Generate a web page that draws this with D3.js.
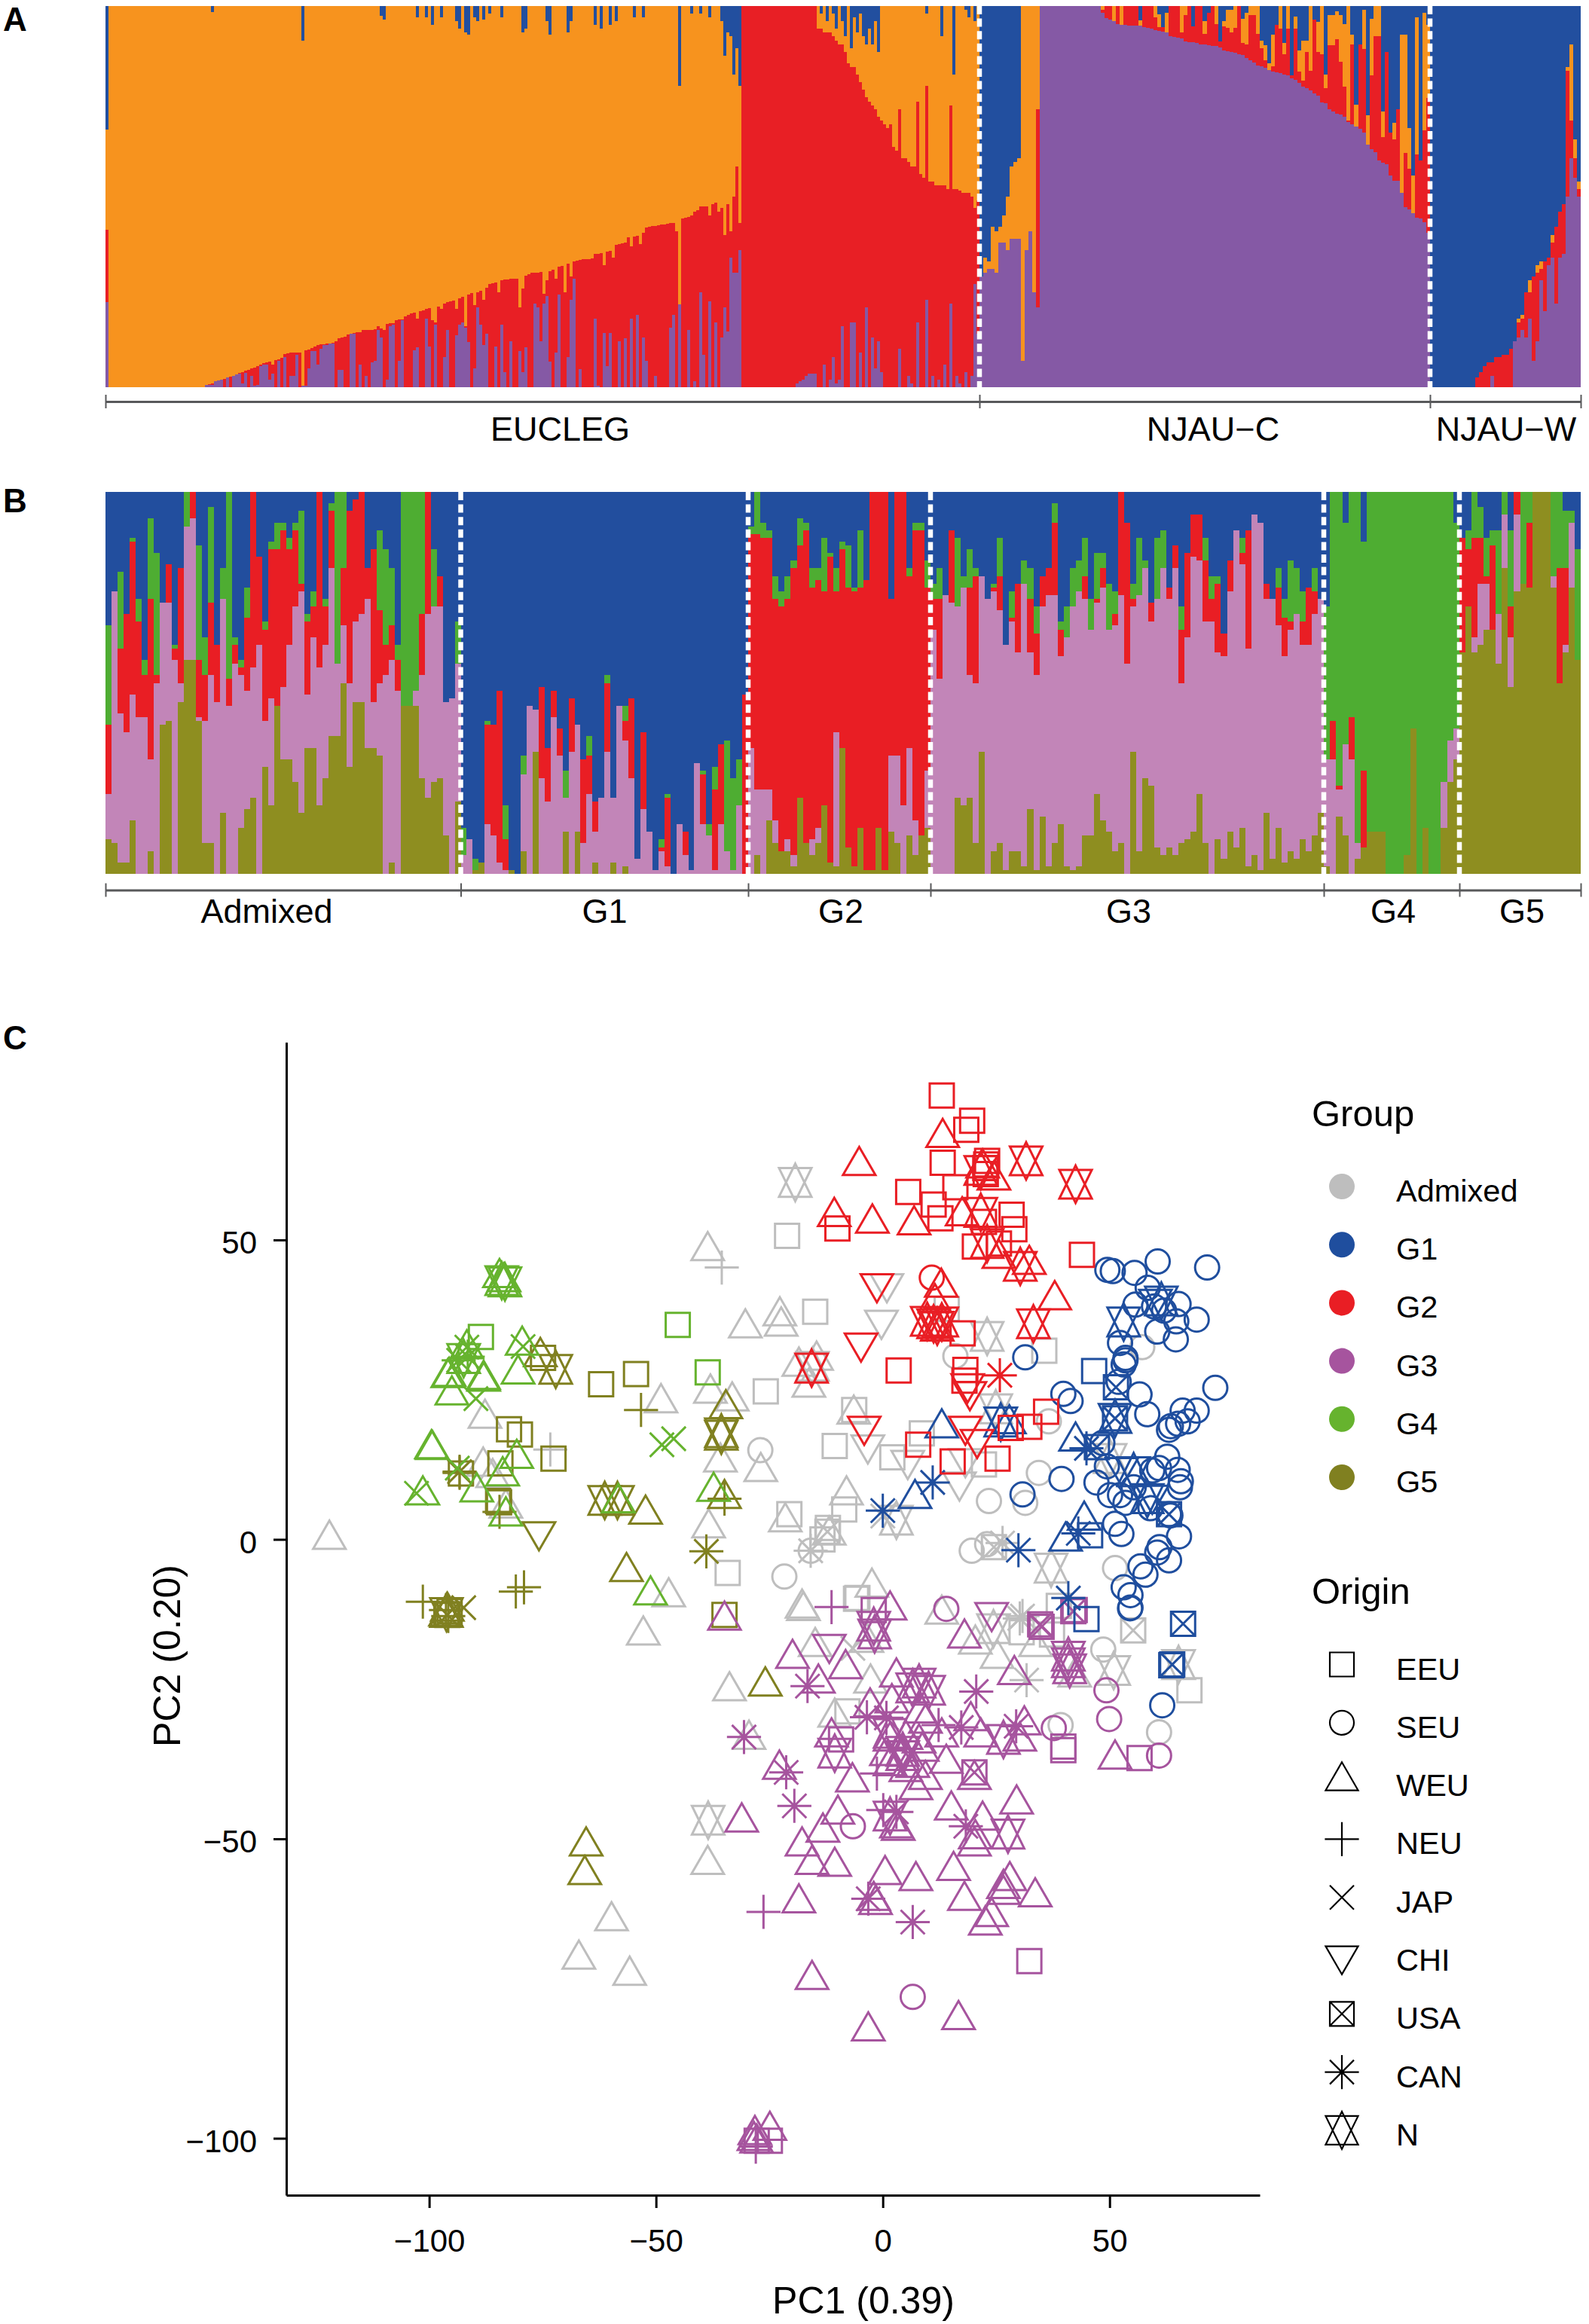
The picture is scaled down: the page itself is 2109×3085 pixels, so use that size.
<!DOCTYPE html>
<html><head><meta charset="utf-8">
<script src="https://cdnjs.cloudflare.com/ajax/libs/d3/7.8.5/d3.min.js"></script>
<style>html,body{margin:0;padding:0;background:#fff}svg{display:block}text{font-family:"Liberation Sans",Arial,sans-serif;fill:#000}</style>
</head><body><svg id="c" width="2109" height="3085" viewBox="0 0 2109 3085"></svg>
<script>
// ---------- Panel A, EUCLEG left part: one value per sample
const aEucPurple=[22.3,0,0,0,0,0,0,0,0,0,0,0,0,0,0,0,0,0,0,0,0,0,0,0,0,0,0,0,0,0,0,0,0,.6,.6,.6,1.5,1.7,2,0,2.5,0,3,3.3,3.5,1,3.8,0,3,.3,.5,5.5,6,6,2,3.5,0,7,0,8,0,3,3,8.5,0,.4,.3,5,9.5,9.5,6,10,11,11,11.4,11.5,0,4.5,4.5,0,0,14,14,0,6,0,3,0,6.5,7,15,13,0,2,16,16.5,0,7,17.5,0,0,0,9.7,10.5,0,0,18,10.7,0,16.5,0,0,8,15,0,0,13.7,16.5,17,15.7,11.8,0,5,21,16.5,11,14,0,0,10.7,0,16.5,4,0,12,0,0,9.5,4,10.5,0,0,22,21,12,22,24,6.7,0,9,24.3,0,0,8,23,28.5,0,4.7,0,0,0,0,18,.3,0,14.3,5.5,14.3,0,0,12,0,12.8,0,18,0,19,0,13,7,0,0,3,0,0,0,0,15.6,19,0,21.7,0,0,15,0,1.5,0,25,8.5,0,22.5,0,17,0,13,21,14.7,34,30,30,36];
const aEucRed=[41.4,0,0,0,0,0,0,0,0,0,0,0,0,0,0,0,0,0,0,0,0,0,0,0,0,0,0,0,0,0,0,0,0,.6,.7,1,1.5,1.7,2,2.2,2.5,2.7,3,3.3,3.8,4,4.4,4.6,5,5.2,5.6,6,6.3,6.5,6.7,6,7.2,7.4,7.7,8.6,8.8,9,9,9,9,.4,9.6,9.8,10.2,10.6,11,11.2,11.3,11.4,11.5,11.7,12,12.8,13,13.2,13.8,14,14.2,14.4,14.5,15,15,15.1,15.1,15.2,16,15.5,15,16.6,16.8,16.8,17.6,17.7,17.8,18.6,19,19.3,19.5,18,20,20.2,20.5,20.7,17.5,17,21.2,20.5,22,22.4,22.6,22.8,20.6,23.4,23.8,16,24.4,24.7,21.5,25,25.3,23,26,27,27.3,27.4,25,28,28.2,28.3,28.4,28.4,28.5,21,25.8,29.3,29.6,30,30,30,30.2,24.5,28,30.5,30.8,28.5,31.6,31.9,25,32.5,29,33,33.3,33.4,33.5,33.6,33.6,33.7,35,35,35.2,32,35.6,35.8,34,37.3,37.5,37.8,38,39.3,37,39.5,39.7,37.5,40.5,41.8,42,42.2,42.3,42.5,42.6,42.7,42.8,43,43.1,41,21.7,44.2,44.4,44.6,45,46,46.5,47.4,47.5,47.5,45,48,48.5,46,47,40,48,41,50,58,43];
const aEucBlueSpikes=[[0,67.6],[35,98.5],[65,91],[91,97.5],[92,96.5],[103,97],[106,97],[108,95],[111,97],[116,96],[117,94],[119,93],[120,92.5],[122,97],[123,96],[125,96.5],[127,98],[131,97],[138,93],[139,94],[146,96],[147,92.5],[153,93],[154,96],[162,95],[164,94],[167,95],[169,96],[175,97],[178,97],[190,79],[194,98],[197,98],[200,97],[204,96],[205,87],[206,93],[207,92],[208,82],[209,89],[210,79]];
// EUCLEG right part: cumulative tops [purple, red, orange]; the remainder is blue
const aEucRight=[[0,100,100],[0,100,100],[0,100,100],[0,100,100],[0,100,100],[0,100,100],[0,100,100],[0,100,100],[0,100,100],[0,100,100],[0,100,100],[0,100,100],[0,100,100],[0,100,100],[0,100,100],[0,100,100],[0,100,100],[0,100,100],[1,100,100],[1.5,100,100],[2,100,100],[3,100,100],[3.5,100,100],[3.5,100,100],[3.5,100,100],[0,94,100],[0,94,98],[6,93,100],[0,93,96],[2,93,100],[8,92,98],[1,91,94],[2,90,100],[16,90,96],[0,88,92],[0,85,100],[17,84,89],[17,84,97],[0,82,93],[9,80,98],[0,78,92],[21,76,90],[0,75,94],[13,74,90],[5,73,96],[12,71,88],[4,70,100],[0,69,100],[0,68,100],[0,69,100],[0,63,100],[0,62,100],[10,73,100],[0,60,100],[0,60,100],[3,59,100],[1,58,100],[0,58,100],[17,75,100],[0,56,100],[0,55,100],[23,79,98],[0,54,100],[3,54,100],[0,53,100],[2,53,100],[0,53,92],[6,53,100],[0,52,100],[22,74,100],[0,52,82],[3,52,100],[1,51.5,100],[0,51,100],[4,51,99],[0,51,97],[3,50,100],[27,47,96],[14,49,100]];
const aNJAUC=[[29,29,29],[30,30,34],[31,31,33],[31,31,42],[30,30,41],[38,38,42],[38,38,45],[36,36,50],[39,39,58],[39,39,59],[39,39,60],[7,7,100],[36,36,100],[41,41,100],[25,25,100],[21,73,100],
[100,100,100],[100,100,100],[100,100,100],[100,100,100],[100,100,100],[100,100,100],[100,100,100],[100,100,100],[100,100,100],[100,100,100],[100,100,100],[100,100,100],[100,100,100],[100,100,100],[100,100,100],[100,100,100],
[98.3,99,100],[96.8,100,100],[96.4,100,100],[96,96,100],[95.3,100,100],[95,95,100],[95,100,100],[94.9,100,100],[94.9,100,100],[94.9,100,100],[94.9,94.9,96.3],[94.5,100,100],[94.2,100,100],[94,100,100],[93.7,97,100],[93.4,94.5,97.9],[93.2,94.5,94.5],[93,93,98.3],[92,100,100],[91.8,100,100],[91.7,100,100],[91.6,93,100],[90.7,97.6,100],[90.5,100,100],[90.5,94.7,94.7],[90.3,100,100],[90,100,100],[89.9,92.7,96],[89.7,98.3,98.3],[89.6,100,100],[89.5,95.3,100],[89.2,90.7,90.7],[88.4,94.7,96],[88.1,94.3,99],[87.9,93,99],[87.7,94.3,100],[87.4,100,100],[87.1,90.4,96.6],[86.3,90,98.3],[85.8,97.6,100],[85.2,97.6,100],[84.3,92.7,100],[84.1,89,91],[83.7,85.8,89.7],[83.3,83.3,85],[82.8,84.1,92.4],[82.6,95,95],[82.5,94,100],[82.1,87.4,90.4],[81.8,94,100],[81,81.8,81.8],[80.6,94,97.3],[79.8,82.8,88.4],[78.9,80.5,91],[78.5,88,91],[77.9,83.1,100],[77,96.5,96.5],[76.5,88,95.8],[74.7,87.4,100],[74.6,78.5,82.1],[72.9,89.7,97.6],[72.3,89.7,97.6],[71.8,91.4,98.6],[71.6,85.4,97.6],[70.9,78.9,95.3],[69.6,70,100],[69,90,92.4],[68.3,68.3,74.2],[67.7,90,90],[66.7,88.7,99],[63.7,63.7,71.3],[62.4,81.8,96.6],[61.7,92,100],[59.4,92,100],[58.8,65.7,72.3],[58.4,88,88],[55.5,66.7,66.7],[54.2,65,69.3],[54.2,72.9,72.9],[50.9,50.9,92.4],[47.2,61.4,92.4],[46.6,57.4,68],[45.6,45.6,55.5],[44.4,61,97],[44.3,59.4,59.4],[43.3,67.3,98.3],[40.6,75.9,95]];
const aNJAUW=[[0,0,0],[0,0,0],[0,0,0],[0,0,0],[0,0,0],[0,0,0],[0,0,0],[0,0,0],[0,0,0],[0,0,0],[0,0,0],[0,0,0],[0,2.5,2.5],[0,4,4],[0,5.5,5.5],[0,6.5,6.5],[3,6.5,6.5],[0,8,8],[0,8,8],[0,8.5,8.5],[0,8.5,8.5],[0,10,10],[12,12,12],[13,17,18],[15,18,19],[13,25,25],[18,25,28],[7,29,29],[12,30,32],[28,31,33],[20,33,33],[32,34,34],[34,38,40],[22,42,42],[34,46,46],[35,48,48],[50,83,84],[60,70,90],[55,60,65],[50,52,54]];

// ---------- Panel B: cumulative tops [olive, pink, red, green]; the remainder is blue
const bAdmixed=[[9,21,39,65],[8,74,74,74],[3,42,59,79],[3,37,68,68],[14,47,87,88],[0,41,66,72],[0,41,52,56],[6,30,72,93],[0,50,52,84],[39,71,71,71],[40,71,81,81],[0,56,59,60],[45,50,80,80],[56,91,91,100],[56,93,100,100],[40,41,56,86],[8,40,52,62],[8,52,71,96],[0,45,60,60],[16,72,72,80],[0,44,51,100],[0,55,60,62],[12,52,54,56],[17,48,67,75],[20,54,100,100],[0,60,83,83],[28,40,64,66],[18,46,85,87],[44,44,85,92],[30,49,90,92],[30,60,85,88],[24,70,90,92],[16,74,76,95],[33,47,66,68],[33,62,70,74],[18,54,100,100],[25,60,70,72],[36,80,95,97],[36,55,55,100],[50,65,80,100],[28,50,95,95],[45,66,98,98],[45,68,100,100],[33,72,80,80],[33,45,85,85],[31,50,69,90],[0,52,60,85],[3,56,65,80],[0,48,56,60],[44,44,44,100],[44,44,44,100],[44,48,48,100],[25,52,68,100],[20,68,100,100],[24,70,70,85],[25,70,78,78],[10,45,45,45],[0,46,46,46],[19,55,55,66]];
const bG1=[[0,5,5,12],[0,9,9,9],[1,1,1,4],[3,3,3,3],[0,13,39,40],[0,10,39,39],[0,3,48,48],[0,1,9,18],[1,1,1,1],[0,0,0,0],[6,26,26,31],[0,44,44,44],[32,43,43,43],[0,25,49,49],[0,19,33,33],[0,41,48,48],[0,31,38,38],[11,20,20,27],[0,32,46,46],[11,39,39,39],[0,8,30,30],[0,21,31,36],[3,11,19,19],[0,20,20,20],[0,32,50,52],[3,20,20,20],[0,44,44,44],[2,35,40,44],[0,25,46,46],[0,4,4,4],[0,17,37,37],[0,11,11,11],[0,1,1,1],[0,6,7,9],[0,2,20,21],[0,0,0,0],[0,13,13,13],[0,5,11,11],[0,1,1,1],[0,29,29,29],[0,13,26,27],[0,10,10,13],[0,1,22,28],[0,13,34,34],[0,6,6,35],[0,1,1,25],[0,18,18,30],[0,0,47,47]];
const bG2=[[0,33,89,91],[5,22,89,100],[0,22,88,92],[14,22,88,90],[8,14,72,78],[6,6,70,74],[6,9,72,78],[2,5,80,82],[20,20,86,93],[8,8,90,92],[5,9,75,80],[8,12,77,80],[18,18,74,88],[3,3,83,84],[2,37,74,80],[33,33,85,87],[7,7,75,86],[2,2,74,75],[12,12,75,90],[1,1,77,77],[1,1,100,100],[12,12,100,100],[1,1,100,100],[11,31,72,72],[8,31,100,100],[0,18,100,100],[10,33,78,80],[5,14,90,92],[10,10,90,92],[12,27,75,82]];
const bG3=[[0,64,72,76],[0,51,72,80],[0,73,73,73],[0,71,90,90],[20,70,70,88],[18,75,75,78],[20,52,75,85],[8,50,78,80],[32,78,78,78],[0,72,72,72],[6,74,75,76],[8,69,78,88],[1,60,60,60],[6,66,67,74],[6,58,76,76],[2,76,76,82],[17,58,72,80],[1,52,63,70],[15,70,78,78],[2,73,80,80],[8,73,92,97],[13,57,64,66],[2,62,62,70],[1,70,70,80],[2,74,74,82],[10,72,78,88],[10,64,64,72],[21,71,72,84],[14,75,80,84],[11,64,64,76],[6,65,68,74],[8,73,100,100],[0,55,92,92],[32,70,72,76],[6,73,73,88],[25,80,80,82],[23,66,71,71],[7,72,72,88],[5,80,80,90],[7,72,75,75],[5,80,86,86],[8,50,64,70],[9,62,84,84],[11,83,94,94],[21,82,94,94],[8,66,82,88],[0,66,72,78],[9,58,76,78],[4,57,63,63],[11,74,82,82],[7,90,90,90],[12,81,84,88],[2,59,90,90],[5,94,94,94],[1,92,92,92],[16,72,76,76],[4,72,72,72],[12,65,75,80],[3,57,67,72],[6,64,66,82],[4,68,68,80],[9,60,66,74],[6,60,75,75],[10,68,74,80],[16,72,72,72]];
const bG4=[[2,30,30,70],[0,30,40,100],[15,22,23,100],[10,34,34,92],[0,30,41,100],[4,8,8,100],[7,7,27,87],[11,11,11,100],[11,11,11,100],[11,11,11,100],[0,0,0,100],[0,0,0,100],[0,0,0,100],[5,5,5,100],[38,38,38,100],[0,0,0,100],[12,12,12,100],[0,0,0,100],[0,0,0,100],[12,24,24,100],[24,35,35,100],[30,38,38,92]];
const bG5=[[58,58,88,88],[70,70,85,90],[58,62,88,100],[60,76,88,96],[64,76,78,88],[64,64,86,90],[55,68,68,90],[80,94,94,100],[49,62,70,90],[74,94,100,100],[76,76,76,100],[75,75,92,100],[100,100,100,100],[100,100,100,100],[100,100,100,100],[75,78,78,100],[50,50,80,100],[58,60,80,95],[75,92,92,95],[56,56,56,85]];

const aGroups=["EUCLEG","NJAU\u2212C","NJAU\u2212W"];
const bGroups=["Admixed","G1","G2","G3","G4","G5"];
const aColors=["#8559A5","#E81F25","#F7931E","#224F9F"];
const bColors=["#8E8E20","#C285B8","#E91E24","#4EAD32","#224E9E"];

// ---------- Panel C: [origin, PC1, PC2]
const ptsAdmixed=[["WEU",-122,0],["WEU",-38.6,48.2],["NEU",-35.5,45.4],["WEU",-30.3,35.3],["WEU",-48.9,22.8],["WEU",-38,24.4],["WEU",-33.2,23.1],["WEU",-87.7,20.2],["WEU",-35.8,12.9],["WEU",-38.4,1.9],["WEU",-88.1,12.2],["WEU",-86,10.3],["WEU",-83.1,5.2],["WEU",-47.2,-9.6],["WEU",-52.8,-16],["NEU",-73.3,15],["EEU",-34.2,-5.6],["WEU",-33.8,-25.3],["WEU",-38.6,-54.3],["N",-38.5,-46.9],["WEU",-59.8,-63.7],["WEU",-67,-70.1],["WEU",-55.8,-72.8],["WEU",-17.8,-11.5],["WEU",-29.5,-33.4],["WEU",-2.7,-24],["EEU",-5.6,-9.8],["WEU",-10.6,-29.7],["EEU",-7.8,-28.7],["WEU",-14.9,-17.9],["JAP",-6.6,-18.2],["WEU",-3.5,-17.2],["WEU",13,-12.5],["N",24.4,-14.9],["CAN",30.2,-13.2],["EEU",30.6,-15.5],["WEU",33.7,-17.9],["WEU",20.4,-17.5],["WEU",25.2,-19.9],["SEU",39.2,-31],["CAN",31.7,-23.5],["N",50.9,-21.9],["WEU",42.3,-23],["USA",55.2,-15.2],["SEU",48.6,-18.4],["SEU",60.9,-32.2],["EEU",67.6,-25.2],["N",65.2,-20.9],["EEU",37.3,-15.9],["EEU",38.8,-11.1],
["N",-19.3,59.6],["N",23,33.9],["N",-15.5,28.9],["N",24.9,21.8],["N",3,3.2],["N",37.1,-4.8],["N",50.1,13.5],["EEU",-21.1,50.7],["EEU",-14.9,38],["EEU",-25.8,24.7],["EEU",-6.3,21.6],["EEU",-10.6,15.6],["EEU",8.6,17.7],["EEU",2.1,13.7],["EEU",-20.6,4.2],["EEU",-8.5,5],["EEU",-12.1,1.9],["EEU",-13.3,0],["EEU",35.6,31.5],["EEU",22.3,12.5],["USA",24.5,-1.3],["EEU",-5.9,-9.9],["EEU",14.1,38.5],["WEU",-22.7,37.3],["WEU",-22.4,35.6],["WEU",-18.5,28.9],["WEU",-14.6,29.9],["WEU",-16.3,25.4],["WEU",-6.4,20.9],["WEU",-26.9,11.3],["WEU",-8,7.4],["WEU",-21.5,2.9],["WEU",-11.8,.7],["WEU",-2.4,-8],["WEU",-17.5,-11.9],["SEU",16,30.6],["SEU",57.2,32.1],["SEU",-27,14.9],["SEU",23.4,6.4],["SEU",34.4,11.1],["SEU",36.6,19.7],["SEU",31.4,6.1],["SEU",19.6,-1.9],["SEU",23,-.8],["SEU",-15.9,-1.9],["SEU",-21.7,-6.2],["SEU",51.2,-4.8],["CHI",.9,42.7],["CHI",-.3,36.6],["CHI",-3.3,15.8],["CHI",5.5,13.2],["CHI",16.9,9.6],["CHI",18.2,13.5],["USA",-12.2,1.3],["CAN",-15.9,-1.9],["CAN",26.4,-.6],["CAN",30.8,-12.8],["JAP",0,3.9]];
const ptsG5=[["EEU",-82.4,18.4],["EEU",-80,17.5],["EEU",-84.3,12.7],["EEU",-93,11],["EEU",-84.8,6.4],["EEU",-84.6,6.2],["EEU",-72.6,13.5],["EEU",-62.1,25.9],["EEU",-54.4,27.6],["EEU",-74.9,30.3],["EEU",-34.9,-12.6],["N",-72.1,28.4],["WEU",-75.5,30.5],["NEU",-53.3,21.6],["NEU",-84.5,4.6],["NEU",-93.3,11.1],["NEU",-101.4,-10.4],["NEU",-80.9,-8.7],["NEU",-79.1,-8],["CAN",-93.3,11.3],["CAN",-38.9,-2],["N",-61.3,6.5],["N",-58.5,6.5],["N",-35.6,17.4],["N",-35.6,17.8],["WEU",-52.3,4.2],["WEU",-56.5,-5.4],["WEU",-34.6,21.8],["WEU",-34.9,6.8],["NEU",-34.9,6.8],["CHI",-75.8,1.3],["EEU",-96.2,-12.5],["EEU",-95.5,-12],["WEU",-96,-12],["WEU",-96.4,-12.8],["N",-96.2,-12.2],["USA",-96,-12.6],["NEU",-96.3,-11.8],["NEU",-95.8,-12.8],["JAP",-92.4,-11.4],["WEU",-65.4,-51.2],["WEU",-65.7,-56],["WEU",-25.9,-24.5]];
const ptsG4=[["WEU",-84.5,43.7],["WEU",-83.5,43],["N",-83.3,43],["N",-84,43.2],["WEU",-91.7,31.8],["JAP",-91.7,32.1],["CAN",-93.5,29.9],["CAN",-91.5,30.5],["EEU",-88.6,33.8],["WEU",-79.5,32.4],["JAP",-79.3,32.2],["WEU",-95.9,27],["WEU",-95.6,27.2],["WEU",-88,26.7],["WEU",-88,26.4],["WEU",-80.4,27.6],["WEU",-95,24.1],["JAP",-89.7,23.5],["N",-92.4,30.2],["WEU",-99.5,15.1],["WEU",-99.3,15],["WEU",-80.7,13.5],["WEU",-83.8,10.6],["WEU",-89.5,7.9],["WEU",-101.4,7.4],["JAP",-102.8,7.7],["WEU",-83.1,3.9],["JAP",-93.8,11.9],["EEU",-45.2,35.8],["EEU",-38.6,27.9],["JAP",-48.7,15.8],["JAP",-46.1,16.8],["WEU",-37.3,8],["WEU",-58.3,6.1],["WEU",-51.2,-9.3]];
const ptsG3=[["WEU",1.6,-11.8],["N",-2,-14.5],["N",-1.8,-15.8],["WEU",18,-16.5],["CHI",-11.8,-17.5],["CHI",24,-12.2],["WEU",-19.9,-19.9],["WEU",-8.2,-21.6],["WEU",-14.2,-24],["CAN",-16.6,-24.5],["WEU",3,-23],["N",6.6,-24.8],["N",10.1,-25.2],["N",8,-24],["CAN",20.6,-25.4],["WEU",29,-22.6],["USA",34.7,-14.2],["USA",35,-14.6],["EEU",42.3,-11.8],["USA",42,-12],["N",40.9,-20.6],["N",40.9,-19.5],["N",41.2,-21.6],["CAN",-3.5,-29.7],["CAN",.8,-29.8],["WEU",-2.8,-28],["WEU",2,-27.3],["WEU",8.3,-29],["NEU",12.3,-31],["CAN",17.3,-31.4],["WEU",19.4,-30.3],["CAN",29.4,-31.2],["WEU",31.2,-31],["WEU",21.6,-33],["N",26.6,-33.4],["WEU",30.2,-33.7],["SEU",37.7,-31.5],["SEU",49.9,-30],["SEU",49.3,-25.2],["SEU",60.9,-36.1],["EEU",39.8,-34.6],["EEU",39.8,-35.2],["EEU",56.6,-36.5],["WEU",51.2,-36.7],["USA",20.2,-38.9],["WEU",20.2,-40.1],["WEU",14,-37.4],["CAN",-30.6,-33],["WEU",-11.3,-33],["EEU",-9.2,-33.4],["N",-10.6,-35.7],["WEU",-22.8,-38.4],["CAN",-21.3,-38.9],["WEU",-6.7,-40.5],["NEU",-1.3,-39.1],
["N",1.6,-32.4],["WEU",5.1,-33.4],["WEU",1.6,-33.7],["N",4.4,-35.4],["WEU",8,-34],["WEU",9.4,-30.7],["WEU",13,-33],["WEU",.8,-36.1],["N",4.4,-36.1],["WEU",8.7,-35.4],["WEU",6.6,-38.1],["WEU",5.1,-38.8],["WEU",9.4,-40.1],["WEU",7.3,-41.8],["WEU",1.6,-37.8],["WEU",-31.1,-47.2],["CAN",-19.5,-44.5],["WEU",-9.9,-45.9],["SEU",-6.6,-47.9],["WEU",-13.2,-48.9],["N",1.6,-46.2],["NEU",.1,-45.2],["CAN",3,-45.5],["WEU",3,-48.2],["WEU",3.4,-48.6],["WEU",15.1,-45.2],["WEU",22,-46.9],["WEU",29.5,-44.2],["N",27.6,-49.2],["CAN",18.3,-47.9],["WEU",20.2,-51.2],["WEU",20.4,-50],["WEU",-17.8,-51.2],["WEU",-15.6,-54.3],["WEU",-10.6,-54.6],["WEU",.5,-56],["WEU",7.3,-57],["WEU",15.6,-55.3],["WEU",28,-57],["WEU",26.6,-58.3],["WEU",26.6,-59.3],["WEU",33.6,-59.7],["WEU",18,-60.3],["WEU",24,-63],["WEU",22.6,-64.4],["CAN",6.6,-63.9],["CAN",-3.2,-60],["WEU",-2,-60.3],["WEU",-1.6,-61],["WEU",-18.5,-60.7],["NEU",-26.3,-62.2],["EEU",32.3,-70.4],["WEU",-15.6,-73.5],["SEU",6.6,-76.4],["WEU",-3.2,-82.1],["WEU",16.7,-80.2],["WEU",-24.9,-98.7],["WEU",-28.2,-99.4],["EEU",-24.9,-100.4],["EEU",-27.8,-100.4],["WEU",-28.4,-100.4],["WEU",-27.8,-100.8],["NEU",-28,-101.4],["NEU",-11.3,-11.3],["EEU",-2,-11.8],["WEU",-34.9,-13.5],["SEU",14,-11.6]];
const ptsG1=[["USA",66.2,-14.1],["USA",63.8,-20.9],["SEU",61.6,-27.7],["SEU",54.5,-11.5],["EEU",44.9,-13.3],["EEU",63.6,-21],["CAN",40.9,-9.8],
["SEU",49.5,45],["SEU",50.7,44.8],["SEU",55.5,44.5],["SEU",60.6,46.4],["SEU",71.5,45.4],["SEU",58.4,42],["SEU",55.7,39.2],["SEU",59.8,38.9],["SEU",65.2,39.3],["SEU",62,38.2],["SEU",64.7,36.4],["SEU",69.2,36.7],["SEU",60.5,34.7],["SEU",64.6,33.4],["SEU",52.3,32.8],["SEU",53.5,29.9],["SEU",53.1,29.2],["SEU",53.5,30.3],["SEU",31.4,30.4],["SEU",52,26.3],["SEU",56.6,24.2],["SEU",73.3,25.3],["SEU",39.8,24.3],["SEU",41.4,23.1],["SEU",58.3,20.9],["SEU",66.1,21.5],["SEU",69.2,21.5],["SEU",67.2,19.7],["SEU",63.5,18.9],["SEU",63.1,18.3],["SEU",65.1,19.3],["SEU",48.4,16.1],["SEU",62.7,13.8],["SEU",65,11.6],["SEU",65.7,9.7],["SEU",65.5,8.7],["SEU",59.4,11.5],["SEU",60.9,11.9],["SEU",49.4,12.2],["SEU",47.1,9.5],["SEU",39.4,10.1],["SEU",30.8,7.5],["SEU",52.3,7.4],["SEU",50.1,7.4],["SEU",53.5,6.1],["SEU",55.3,8.7],["SEU",59,5.2],["SEU",63.1,4.2],["SEU",63.4,4],["SEU",51.2,2.6],["SEU",52.6,.9],["SEU",65.3,.5],["SEU",61,-1.3],["SEU",60.5,-2.2],["SEU",63.1,-3.5],["SEU",56.8,-4.5],["SEU",57.9,-5.9],["SEU",53.1,-8],["SEU",54.6,-9.3],["SEU",54.6,-11.4],["N",53.1,36.3],["N",61.4,39.8],["N",51.2,20.2],["N",58.3,6.8],["N",55.3,11.3],["CHI",52.7,12],["CHI",60.1,40.1],["CHI",59.4,7.4],["N",26,19.6],["USA",51.4,25.4],["USA",51.2,20.2],["USA",47.2,15.4],["USA",63.1,4.2],["EEU",46.6,28.1],["EEU",45.7,.7],["WEU",13,18.6],["WEU",42.5,16.4],["WEU",7.1,6.8],["WEU",44.4,3.2],["WEU",40.3,-.3],["WEU",27.9,19.3],["CAN",11,9.5],["CAN",0,4.8],["CAN",44.9,15.2],["CAN",43.1,1],["CAN",29.9,-1.8]];
const ptsG2=[["EEU",13,74.1],["EEU",19.7,69.9],["EEU",18.4,68.4],["EEU",13.2,62.9],["EEU",23,63.2],["EEU",22.8,62.6],["EEU",22.6,62],["EEU",22.7,61],["EEU",5.6,58],["EEU",11.2,55.9],["EEU",16,58.8],["EEU",12.7,53.6],["EEU",-10,51.9],["EEU",28.4,54.2],["EEU",22.3,53],["EEU",29,51.8],["EEU",20.3,48.9],["EEU",25.6,49.4],["EEU",43.9,47.5],["EEU",17.6,34.4],["EEU",3.5,28.2],["EEU",18.2,28.3],["EEU",18,26.5],["EEU",36,21.3],["EEU",32.3,18.8],["EEU",28.2,18.6],["EEU",7.8,15.8],["EEU",15.4,13],["EEU",25.3,13.5],["WEU",13.2,67.1],["WEU",-5.2,62.4],["WEU",-10.7,53.9],["WEU",-2.3,52.8],["WEU",6.9,52.5],["WEU",17.5,54],["WEU",24.5,60],["WEU",22,62],["WEU",25.6,46.9],["WEU",32.3,45.9],["WEU",37.9,40],["WEU",12.9,42.1],["WEU",11.5,39.5],["N",31.6,63.2],["N",42.5,59.3],["N",21.6,54.6],["N",23,49.4],["N",30.3,45.6],["N",21.6,61.6],["N",11.2,36],["N",9.8,36.4],["N",12,35.6],["N",13,36.3],["N",33.2,36],["N",-15.7,28.6],["SEU",10.8,43.7],["CHI",-1.3,42.7],["CHI",-4.8,32.8],["CHI",18.7,26],["CHI",19.2,24.7],["CHI",-4.1,18.9],["CHI",18.2,18.9],["CHI",20.8,16.7],["CAN",25.8,27.4]];

const legendGroups=["Admixed","G1","G2","G3","G4","G5"];
const groupColors=["#BEBEBE","#1F4E9E","#E91E24","#A6549E","#66B32E","#808020"];
const origins=["EEU","SEU","WEU","NEU","JAP","CHI","USA","CAN","N"];
const xTicks=[-100,-50,0,50], yTicks=[-100,-50,0,50];

const aEucLeft=aEucRed.map((r,i)=>{
  const spike=aEucBlueSpikes.find(s=>s[0]===i);
  return [aEucPurple[i],r,spike?spike[1]:100];
});

const svg=d3.select("#c");
const panelLetter=(t,y)=>svg.append("text").attr("x",4).attr("y",y).attr("font-size",44).attr("font-weight","bold").text(t);
panelLetter("A",41);panelLetter("B",680);panelLetter("C",1393);

function drawBars(groups,edges,colors,top,bottom){
  const y=d3.scaleLinear().domain([0,100]).range([bottom,top]);
  const layer=svg.append("g").attr("shape-rendering","crispEdges");
  groups.forEach((rows,gi)=>{
    const x=d3.scaleBand().domain(d3.range(rows.length)).range([edges[gi],edges[gi+1]]);
    rows.forEach((row,i)=>{
      let prev=0;
      row.concat([100]).forEach((v,k)=>{
        const t=Math.max(prev,v);
        if(t>prev) layer.append("rect").attr("x",x(i)).attr("width",x.bandwidth()+.4)
          .attr("y",y(t)).attr("height",y(prev)-y(t)).attr("fill",colors[k]);
        prev=t;
      });
    });
  });
}
function drawBounds(edges,top,bottom,axisY){
  svg.append("g").selectAll("line").data(edges.slice(1,-1)).join("line")
    .attr("x1",d=>d).attr("x2",d=>d).attr("y1",top).attr("y2",bottom+2)
    .attr("stroke","#fff").attr("stroke-width",6.5).attr("stroke-dasharray","11 5.6");
  const ax=d3.axisBottom(d3.scaleLinear().domain([edges[0],edges[edges.length-1]]).range([edges[0],edges[edges.length-1]]))
    .tickValues(edges).tickFormat("").tickSizeOuter(0).tickSizeInner(9);
  const g=svg.append("g").attr("transform",`translate(0,${axisY})`).call(ax);
  g.selectAll("text").remove();
  g.select(".domain").attr("stroke","#58595B").attr("stroke-width",3);
  g.selectAll(".tick line").attr("y1",-9).attr("stroke","#58595B").attr("stroke-width",2);
}
drawBars([aEucLeft,aEucRight,aNJAUC,aNJAUW],[140,984,1300,1898,2098],aColors,8,514);
drawBounds([140,1300,1898,2098],8,514,533);
aGroups.forEach((t,i)=>svg.append("text").attr("x",[743.5,1610,1999][i]).attr("y",585).attr("text-anchor","middle").attr("font-size",45).text(t));
drawBars([bAdmixed,bG1,bG2,bG3,bG4,bG5],[140,611.5,993,1235,1757,1937,2098],bColors,653,1160);
drawBounds([140,611.5,993,1235,1757,1937,2098],653,1160,1181.5);
bGroups.forEach((t,i)=>svg.append("text").attr("x",[354,802.4,1116,1498,1849,2020][i]).attr("y",1225).attr("text-anchor","middle").attr("font-size",45).text(t));

// symbols in the style of R's pch set
const R=16, rT=R*1.555, xT=R*1.347, yT=R*.778, P=R*1.414, yS6=R*1.19;
const up=`M0,${-rT}L${xT},${yT}L${-xT},${yT}Z`, down=`M0,${rT}L${xT},${-yT}L${-xT},${-yT}Z`;
const star=`M0,${-rT}L${xT},${yS6}L${-xT},${yS6}ZM0,${rT}L${xT},${-yS6}L${-xT},${-yS6}Z`;
const sq=`M${-R},${-R}H${R}V${R}H${-R}Z`, cross=`M${-R},${-R}L${R},${R}M${-R},${R}L${R},${-R}`, plus=`M${-P},0H${P}M0,${-P}V${P}`;
const circ=`M${R},0A${R},${R} 0 1 1 ${-R},0A${R},${R} 0 1 1 ${R},0Z`;
const shape={EEU:sq,SEU:circ,WEU:up,NEU:plus,JAP:cross,CHI:down,USA:sq+cross,CAN:plus+cross,N:star};

const xS=d3.scaleLinear().domain([-131.5,83.1]).range([380,1672]);
const yS=d3.scaleLinear().domain([83,-109.5]).range([1383.6,2914]);
[[ptsAdmixed,0],[ptsG5,5],[ptsG4,4],[ptsG3,3],[ptsG1,1],[ptsG2,2]].forEach(([pts,c])=>{
  svg.append("g").selectAll("path").data(pts).join("path")
    .attr("d",d=>shape[d[0]]).attr("transform",d=>`translate(${xS(d[1])},${yS(d[2])})`)
    .attr("fill","none").attr("stroke",groupColors[c]).attr("stroke-width",3);
});
const gx=svg.append("g").attr("transform","translate(0,2914)").call(d3.axisBottom(xS).tickValues(xTicks).tickSizeOuter(0).tickSizeInner(17).tickPadding(28));
const gy=svg.append("g").attr("transform","translate(380,0)").call(d3.axisLeft(yS).tickValues(yTicks).tickSizeOuter(0).tickSizeInner(17).tickPadding(22));
[gx,gy].forEach(g=>{g.selectAll(".domain,.tick line").attr("stroke","#000").attr("stroke-width",3);g.selectAll("text").attr("font-size",42).attr("font-family",'"Liberation Sans",Arial,sans-serif').attr("fill","#000");});
gy.selectAll("text").attr("dy",".42em");
svg.append("text").attr("x",1146).attr("y",3071).attr("text-anchor","middle").attr("font-size",50).text("PC1 (0.39)");
svg.append("text").attr("transform","translate(239,2198) rotate(-90)").attr("text-anchor","middle").attr("font-size",50).text("PC2 (0.20)");

// legends
svg.append("text").attr("x",1741).attr("y",1495).attr("font-size",49).text("Group");
legendGroups.forEach((t,i)=>{
  const cy=1575+77.2*i;
  svg.append("circle").attr("cx",1781).attr("cy",cy).attr("r",17).attr("fill",groupColors[i]);
  svg.append("text").attr("x",1853).attr("y",cy+20).attr("font-size",41.5).text(t);
});
svg.append("text").attr("x",1741).attr("y",2129).attr("font-size",49).text("Origin");
origins.forEach((t,i)=>{
  const cy=2209.5+77.3*i;
  svg.append("path").attr("d",shape[t]).attr("transform",`translate(1781,${cy})`).attr("fill","none").attr("stroke","#000").attr("stroke-width",2.2);
  svg.append("text").attr("x",1853).attr("y",cy+20).attr("font-size",41.5).text(t);
});
</script></body></html>
